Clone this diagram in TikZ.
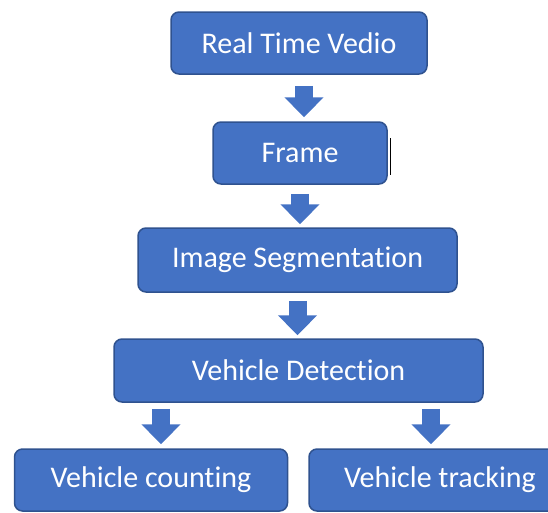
\documentclass[tikz,border=0pt]{standalone}
\usepackage{fontspec}
\setmainfont{Carlito}[Ligatures=NoCommon]
\usetikzlibrary{arrows.meta,calc}

\newlength{\du}
\setlength{\du}{1pt}
\definecolor{boxfill}{HTML}{4472C4}
\definecolor{boxline}{HTML}{2F528F}
\tikzset{
  stagebox/.style={draw=boxline, fill=boxfill, line width=1.5\du,
    rounded corners=8\du, text=white, inner sep=0pt,
    font=\fontsize{30}{34}\selectfont, minimum height=62\du},
  blockarrow/.style={draw=boxfill, line width=18\du,
    -{Triangle[width=38pt,length=20pt]}},
}

\begin{document}
\begin{tikzpicture}[x=1\du,y=-1\du]
\useasboundingbox (0,0) rectangle (548,512);
% stages
\node[stagebox, minimum width=256\du] (video) at (299,43) {Real Time Vedio};
\node[stagebox, minimum width=174\du] (frame) at (300,153) {Frame};
\node[stagebox, minimum width=319\du, minimum height=64\du] (segment) at (297.5,260) {Image Segmentation};
\node[stagebox, minimum width=369\du, minimum height=63\du] (detect) at (298.5,370.5) {Vehicle Detection};
\node[stagebox, minimum width=273\du] (count) at (151,480) {Vehicle counting};
\node[stagebox, minimum width=262\du] (track) at (440,480) {Vehicle tracking};
% cursor mark
\draw[line width=1.3\du] ([xshift=3\du]frame.east) ++(0,-15) -- ++(0,37);
% arrows
\draw[blockarrow, shorten <=11\du, shorten >=4\du] ($(frame.north |- video.south)+(4,0)$) -- ($(frame.north)+(4,0)$);
\draw[blockarrow, shorten <=9\du, shorten >=3\du] (frame.south) -- (frame.south |- segment.north);
\draw[blockarrow, shorten <=8\du, shorten >=3\du] (segment.south) -- (segment.south |- detect.north);
\draw[blockarrow, shorten <=6\du, shorten >=4\du] ($(count.north |- detect.south)+(10,0)$) -- ($(count.north)+(10,0)$);
\draw[blockarrow, shorten <=6\du, shorten >=4\du] ($(track.north |- detect.south)+(-9,0)$) -- ($(track.north)+(-9,0)$);
\end{tikzpicture}
\end{document}
